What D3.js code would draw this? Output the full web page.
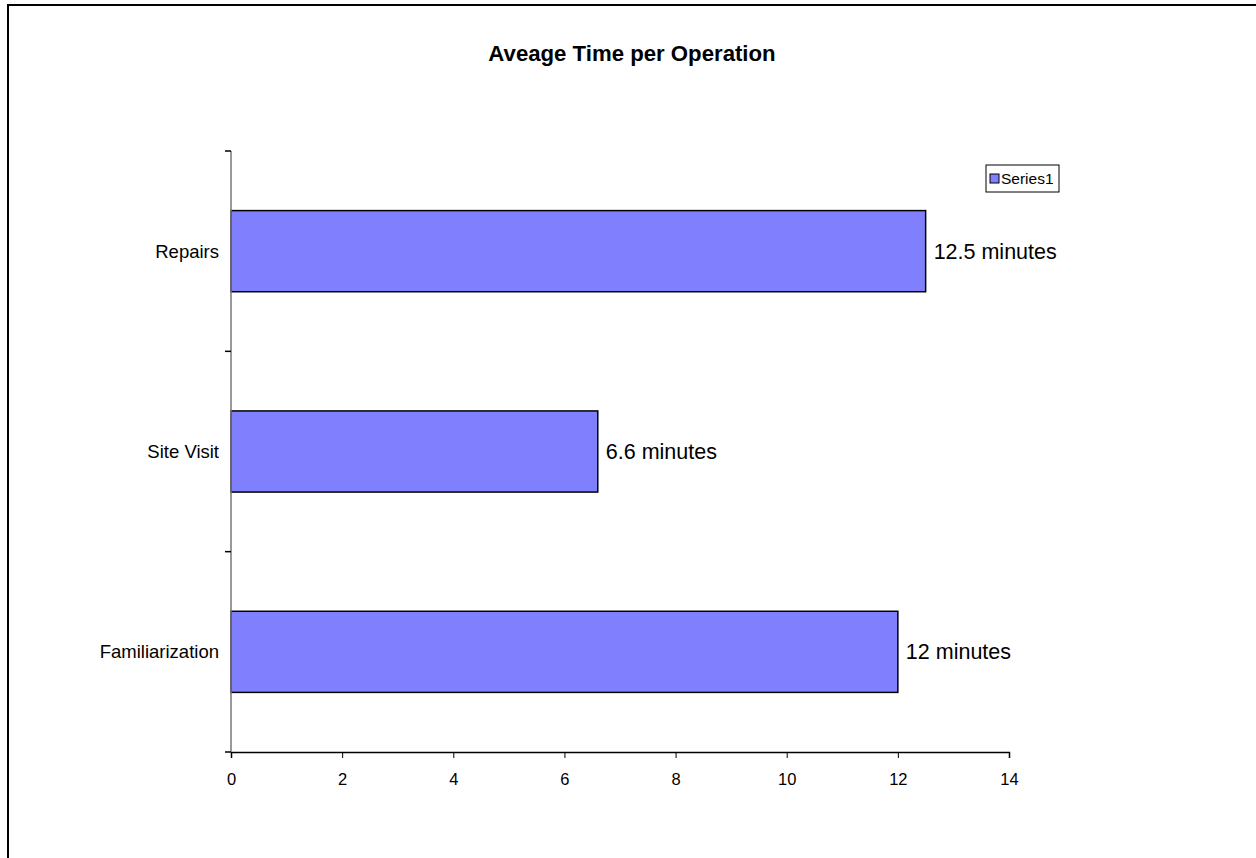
<!DOCTYPE html>
<html>
<head>
<meta charset="utf-8">
<script src="https://cdn.jsdelivr.net/npm/d3@7"></script>
<style>
  html, body { margin: 0; padding: 0; background: #fff; }
  svg { display: block; font-family: "Liberation Sans", Arial, sans-serif; }
</style>
</head>
<body>
<svg id="chart" width="1256" height="858"></svg>
<script>
// Operations, listed top to bottom
const categories = ["Repairs", "Site Visit", "Familiarization"];
// Average minutes per operation
const values = [12.5, 6.6, 12];
const valueLabels = ["12.5 minutes", "6.6 minutes", "12 minutes"];
const xTicks = [0, 2, 4, 6, 8, 10, 12, 14];
const seriesName = "Series1";
const title = "Aveage Time per Operation";

const svg = d3.select("#chart");

// Outer frame of the chart area
svg.append("rect")
  .attr("x", 8).attr("y", 5)
  .attr("width", 1300).attr("height", 900)
  .attr("fill", "#fff")
  .attr("stroke", "#000").attr("stroke-width", 2);

const plot = { left: 231, right: 1009, top: 151, bottom: 752 };

const x = d3.scaleLinear().domain([0, 14]).range([plot.left, plot.right]);
const y = d3.scaleBand().domain(categories)
  .range([plot.top, plot.bottom])
  .paddingInner(0.595).paddingOuter(0.2975);

// Title
svg.append("text")
  .attr("x", 632).attr("y", 61)
  .attr("text-anchor", "middle")
  .attr("font-size", 22.2).attr("font-weight", "bold")
  .text(title);

// Bars
svg.append("g").selectAll("rect")
  .data(values)
  .join("rect")
  .attr("x", x(0))
  .attr("y", (d, i) => y(categories[i]))
  .attr("width", d => x(d) - x(0))
  .attr("height", y.bandwidth())
  .attr("fill", "#8080ff")
  .attr("stroke", "#000").attr("stroke-width", 1.5);

// Value labels
svg.append("g").selectAll("text")
  .data(values)
  .join("text")
  .attr("x", d => x(d) + 8)
  .attr("y", (d, i) => y(categories[i]) + y.bandwidth() / 2)
  .attr("dy", "0.35em")
  .attr("font-size", 21.5)
  .text((d, i) => valueLabels[i]);

// X axis
const xAxis = svg.append("g")
  .attr("transform", `translate(0,${plot.bottom})`)
  .call(d3.axisBottom(x).tickValues(xTicks).tickSize(6).tickPadding(15).tickFormat(d3.format("d")));
xAxis.select(".domain").attr("stroke", "#000").attr("stroke-width", 1.5);
xAxis.selectAll(".tick line").attr("stroke", "#000");
xAxis.selectAll(".tick text").attr("font-size", 16.5).attr("fill", "#000")
  .attr("font-family", "Liberation Sans, Arial, sans-serif");

// Y axis: line with tick marks on the category boundaries
const yAxisG = svg.append("g");
yAxisG.append("line")
  .attr("x1", plot.left).attr("x2", plot.left)
  .attr("y1", plot.top).attr("y2", plot.bottom)
  .attr("stroke", "#777").attr("stroke-width", 1.5);
const boundaries = categories.map(c => y(c) - y.step() * y.paddingInner() / 2)
  .concat([plot.bottom]);
yAxisG.selectAll("line.tick")
  .data(boundaries)
  .join("line")
  .attr("class", "tick")
  .attr("x1", plot.left - 6).attr("x2", plot.left)
  .attr("y1", d => d).attr("y2", d => d)
  .attr("stroke", "#000").attr("stroke-width", 1.5);
yAxisG.selectAll("text")
  .data(categories)
  .join("text")
  .attr("x", plot.left - 12)
  .attr("y", d => y(d) + y.bandwidth() / 2)
  .attr("dy", "0.35em")
  .attr("text-anchor", "end")
  .attr("font-size", 18.5)
  .text(d => d);

// Legend
const legend = svg.append("g").attr("transform", "translate(986,165)");
legend.append("rect")
  .attr("width", 73).attr("height", 27)
  .attr("fill", "#fff").attr("stroke", "#000").attr("stroke-width", 1);
legend.append("rect")
  .attr("x", 4).attr("y", 9).attr("width", 9).attr("height", 9)
  .attr("fill", "#8080ff").attr("stroke", "#000").attr("stroke-width", 1);
legend.append("text")
  .attr("x", 15).attr("y", 14).attr("dy", "0.35em")
  .attr("font-size", 15.5)
  .text(seriesName);
</script>
</body>
</html>
